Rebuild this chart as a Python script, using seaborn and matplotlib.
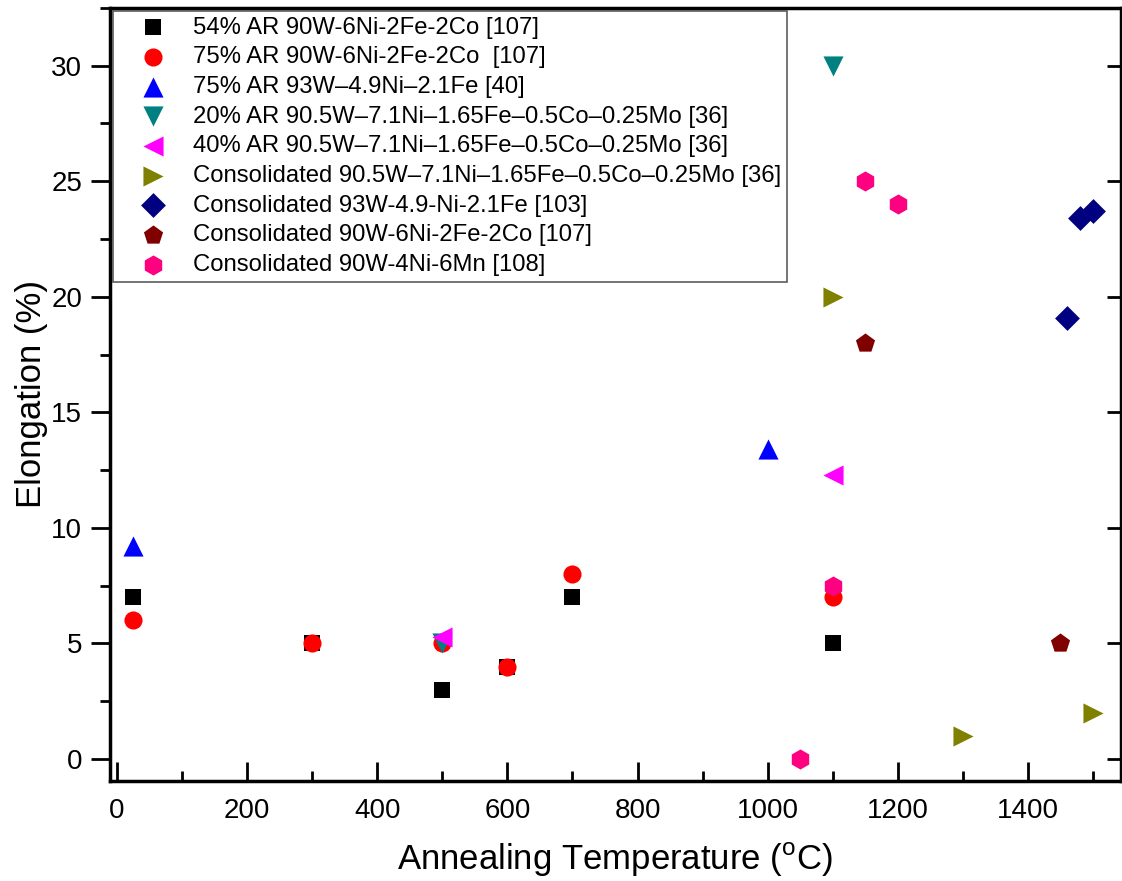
import matplotlib
matplotlib.use("Agg")
import matplotlib.pyplot as plt
from matplotlib.ticker import MultipleLocator, NullFormatter
import seaborn as sns
import pandas as pd

# ---- data ----
labels = [
    "54% AR 90W-6Ni-2Fe-2Co [107]",
    "75% AR 90W-6Ni-2Fe-2Co  [107]",
    "75% AR 93W\u20134.9Ni\u20132.1Fe [40]",
    "20% AR 90.5W\u20137.1Ni\u20131.65Fe\u20130.5Co\u20130.25Mo [36]",
    "40% AR 90.5W\u20137.1Ni\u20131.65Fe\u20130.5Co\u20130.25Mo [36]",
    "Consolidated 90.5W\u20137.1Ni\u20131.65Fe\u20130.5Co\u20130.25Mo [36]",
    "Consolidated 93W-4.9-Ni-2.1Fe [103]",
    "Consolidated 90W-6Ni-2Fe-2Co [107]",
    "Consolidated 90W-4Ni-6Mn [108]",
]
s1_x = [25, 300, 500, 600, 700, 1100]
s1_y = [7, 5, 3, 4, 7, 5]
s2_x = [25, 300, 500, 600, 700, 1100]
s2_y = [6, 5, 5, 4, 8, 7]
s3_x = [25, 1000]
s3_y = [9.2, 13.4]
s4_x = [500, 1100]
s4_y = [5.0, 30.0]
s5_x = [500, 1100]
s5_y = [5.3, 12.3]
s6_x = [1100, 1300, 1500]
s6_y = [20, 1, 2]
s7_x = [1460, 1480, 1500]
s7_y = [19.1, 23.4, 23.7]
s8_x = [1150, 1450]
s8_y = [18, 5]
s9_x = [1050, 1100, 1150, 1200]
s9_y = [0, 7.5, 25, 24]

xs = [s1_x, s2_x, s3_x, s4_x, s5_x, s6_x, s7_x, s8_x, s9_x]
ys = [s1_y, s2_y, s3_y, s4_y, s5_y, s6_y, s7_y, s8_y, s9_y]

colors = ["#000000", "#FF0000", "#0000FF", "#008080", "#FF00FF",
          "#808000", "#000080", "#800000", "#FF0080"]
markers = ["s", "o", "^", "v", "<", ">", "D", "p", "h"]
sizes = [140, 170, 210, 210, 210, 210, 160, 210, 210]

rows = []
for lab, xx, yy in zip(labels, xs, ys):
    for a, b in zip(xx, yy):
        rows.append({"T": a, "E": b, "series": lab})
df = pd.DataFrame(rows)

sns.set_style("ticks")
plt.rcParams["font.family"] = ["Liberation Sans", "DejaVu Sans"]
plt.rcParams["mathtext.fontset"] = "custom"
plt.rcParams["mathtext.rm"] = "Liberation Sans"
for k in ["text.color", "axes.labelcolor", "xtick.color", "ytick.color", "axes.edgecolor"]:
    plt.rcParams[k] = "black"

fig = plt.figure(figsize=(11.22, 8.81), dpi=100)
ax = fig.add_axes([0.098, 0.1135, 0.901, 0.8775])

for lab, c, m, sz in zip(labels, colors, markers, sizes):
    sub = df[df["series"] == lab]
    sns.scatterplot(data=sub, x="T", y="E", ax=ax, color=c, marker=m,
                    s=sz, linewidth=0, label=lab, zorder=3)

ax.set_xlim(-11, 1543)
ax.set_ylim(-0.95, 32.5)
ax.xaxis.set_major_locator(MultipleLocator(200))
ax.xaxis.set_minor_locator(MultipleLocator(100))
ax.yaxis.set_major_locator(MultipleLocator(5))
ax.yaxis.set_minor_locator(MultipleLocator(2.5))

ax.tick_params(axis="x", which="major", direction="in", length=14, width=2,
               labelsize=20, pad=12, top=False)
ax.tick_params(axis="x", which="minor", direction="in", length=7, width=2, top=False)
ax.tick_params(axis="y", which="major", direction="out", length=14, width=2,
               labelsize=20, pad=6, right=False)
ax.tick_params(axis="y", which="minor", direction="out", length=7, width=2, right=False)
for sp in ax.spines.values():
    sp.set_linewidth(2.5)
    sp.set_visible(True)
    sp.set_color("black")

# right-side inward ticks
ax2 = ax.twinx()
ax2.set_ylim(ax.get_ylim())
ax2.yaxis.set_major_locator(MultipleLocator(5))
ax2.yaxis.set_minor_locator(MultipleLocator(2.5))
ax2.yaxis.set_major_formatter(NullFormatter())
ax2.tick_params(axis="y", which="major", direction="in", length=10, width=2)
ax2.tick_params(axis="y", which="minor", direction="in", length=0, width=0)
for sp in ax2.spines.values():
    sp.set_visible(False)

ax.set_xlabel("Annealing Temperature ($^\\mathregular{o}$C)", fontsize=25, labelpad=12)
ax.set_ylabel("Elongation (%)", fontsize=25, labelpad=2)

leg = ax.legend(loc="upper left", fontsize=17.2, frameon=True, fancybox=False,
                borderaxespad=0.12, handletextpad=0.2, labelspacing=0.32,
                borderpad=0.25, markerscale=1.0, handlelength=2.9)
leg.get_frame().set_edgecolor("#333333")
leg.get_frame().set_linewidth(1.2)
leg.set_zorder(5)

fig.savefig("out.png", dpi=100)
